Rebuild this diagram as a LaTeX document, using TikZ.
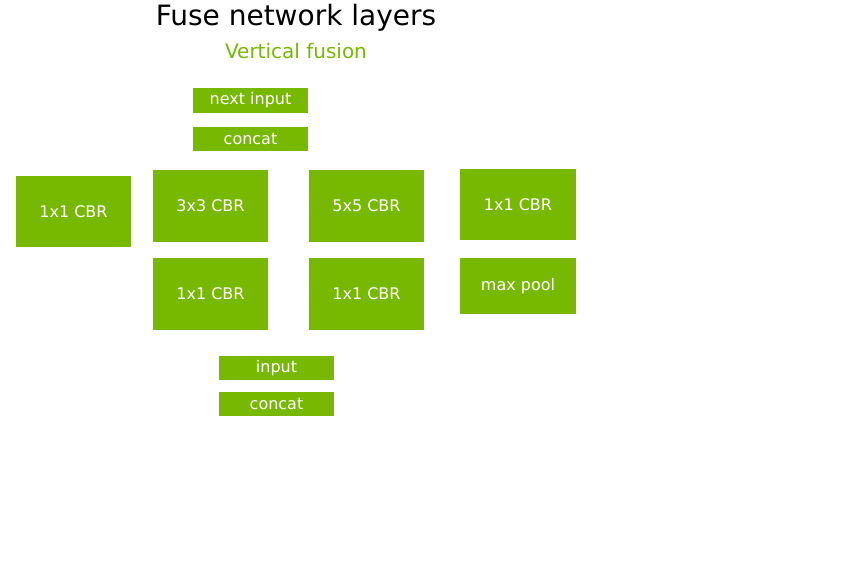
\documentclass[tikz,border=0pt]{standalone}
\usepackage{fontspec}
\setmainfont{DejaVu Sans}
\usetikzlibrary{arrows.meta,backgrounds}
\definecolor{nvg}{RGB}{118,185,0}
\begin{document}
\begin{tikzpicture}[x=1pt,y=-1pt,
  box/.style={fill=nvg,draw=none,text=white,inner sep=0pt,anchor=center,font=\fontsize{16}{18}\selectfont},
  edge/.style={draw=gray!60!black,line width=0.6pt,-{Stealth[length=4pt,width=3pt]}},
  plain/.style={draw=gray!60!black,line width=0.6pt}]
\useasboundingbox[fill=white] (0,0) rectangle (847,579);
\node[font=\fontsize{28}{32}\selectfont] (title) at (296,18) {Fuse network layers};
\node[font=\fontsize{20}{24}\selectfont,text=nvg] (sub) at (296,51) {Vertical fusion};
\node[box,minimum width=115,minimum height=25] (ni) at (250.5,100.5) {next input};
\node[box,minimum width=115,minimum height=24] (ct) at (250.5,139) {concat};
\node[box,minimum width=115,minimum height=71] (L) at (73.5,211.5) {1x1 CBR};
\node[box,minimum width=115,minimum height=72] (c3) at (210.5,206) {3x3 CBR};
\node[box,minimum width=115,minimum height=72] (c5) at (366.5,206) {5x5 CBR};
\node[box,minimum width=116,minimum height=71] (cr) at (518,204.5) {1x1 CBR};
\node[box,minimum width=115,minimum height=72] (m1) at (210.5,294) {1x1 CBR};
\node[box,minimum width=115,minimum height=72] (m5) at (366.5,294) {1x1 CBR};
\node[box,minimum width=116,minimum height=56] (mp) at (518,286) {max pool};
\node[box,minimum width=115,minimum height=24] (in) at (276.5,368) {input};
\node[box,minimum width=115,minimum height=24] (cb) at (276.5,404) {concat};
\begin{scope}[on background layer]
\draw[edge] (ct.north) -- (ni.south);
\draw[edge] ([yshift=17]L.north east) -- ([xshift=-34.5]ct.south);
\draw[edge] ([xshift=22]c3.north) -- ([xshift=-10]ct.south);
\draw[edge] (c5.north west) -- ([xshift=25]ct.south);
\draw[edge] ([yshift=-21]cr.north west) -- ([xshift=60]ct.south);
\draw[edge] ([xshift=-14]in.north) -- ([xshift=47.5]L.south);
\draw[edge] ([xshift=-18]in.north) -- ([xshift=33.5]m1.south);
\draw[edge] (m1.north) -- (c3.south);
\draw[edge] (m5.north) -- (c5.south);
\draw[edge] (mp.north) -- (cr.south);
\draw[edge] (in.north) .. controls (282,338) and (340,342) .. (m5.south);
\draw[edge] ([xshift=42]in.north) -- ([yshift=-8]mp.south west);
\draw[edge] (cb.north) -- (in.south);
\end{scope}
\end{tikzpicture}
\end{document}
